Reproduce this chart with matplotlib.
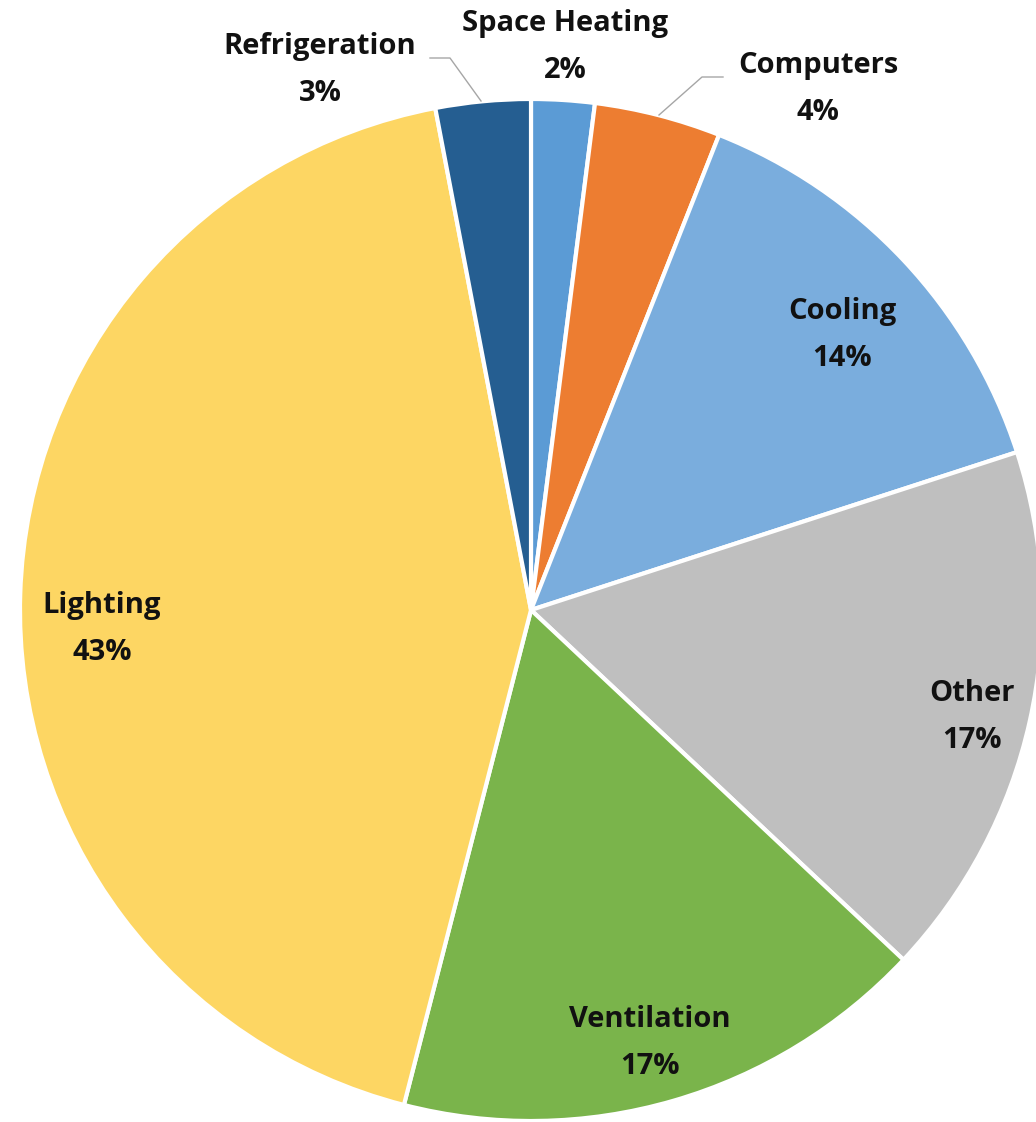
import matplotlib.pyplot as plt

# data (clockwise from 12 o'clock)
labels = ["Space Heating", "Computers", "Cooling", "Other", "Ventilation", "Lighting", "Refrigeration"]
shares = [2, 4, 14, 17, 17, 43, 3]
colors = ["#5B9BD5", "#ED7D31", "#7AADDD", "#BFBFBF", "#7AB44B", "#FDD663", "#255E91"]

W, H = 1036, 1122
fig = plt.figure(figsize=(W / 100, H / 100), dpi=100)
ax = fig.add_axes([0, 0, 1, 1])

cx, cy, r = 531, H - 610, 511
ax.pie(shares, colors=colors, startangle=90, counterclock=False,
       center=(cx, cy), radius=r, frame=True,
       wedgeprops=dict(edgecolor="white", linewidth=3))
ax.set_xlim(0, W)
ax.set_ylim(0, H)
ax.set_aspect("equal")
ax.axis("off")

# label block centres in image pixels (x, y from top)
label_pos = [(565, 47), (818, 89), (842, 335), (972, 717), (650, 1043), (102, 629), (320, 70)]
for name, val, (px, py) in zip(labels, shares, label_pos):
    ax.text(px, H - py, f"{name}\n{val}%", ha="center", va="center",
            fontsize=21, fontweight="bold", family="Open Sans",
            linespacing=1.8, color="#111111")

# leader lines
ax.plot([430, 450, 481], [H - 58, H - 58, H - 101], color="#A6A6A6", lw=1.0)
ax.plot([723, 702, 659], [H - 77, H - 77, H - 115], color="#A6A6A6", lw=1.0)

fig.savefig("out.png", dpi=100)
